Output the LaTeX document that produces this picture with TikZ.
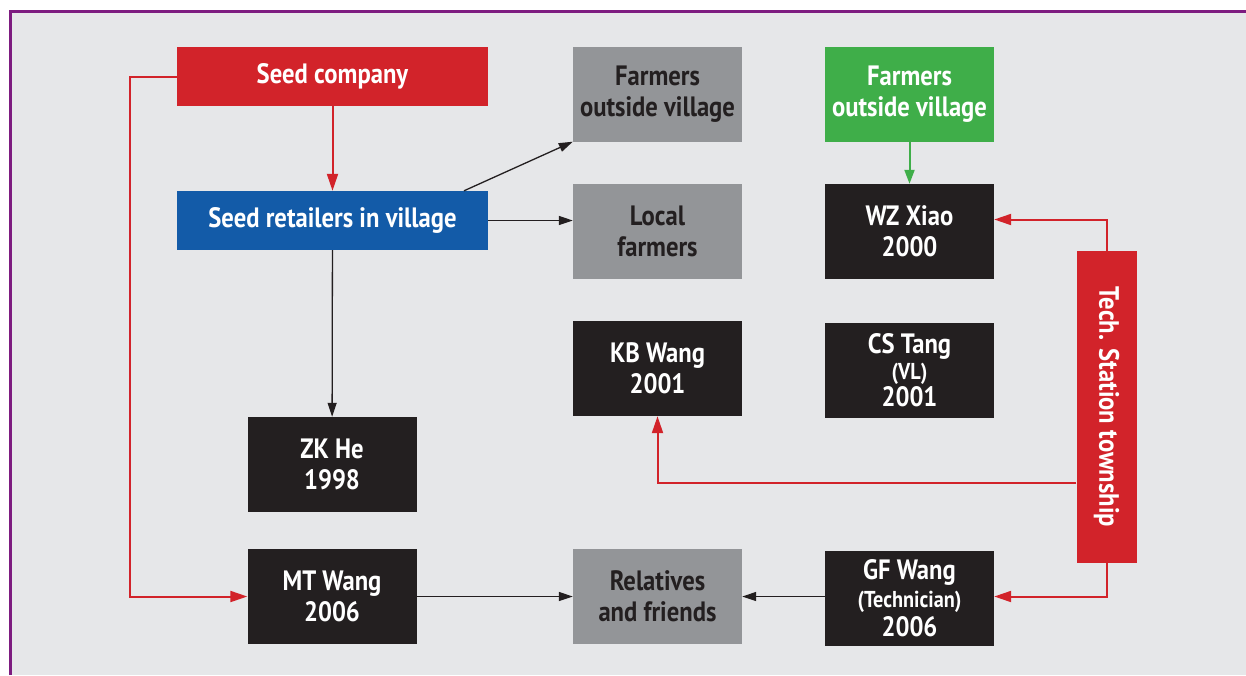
\documentclass[tikz,border=0pt]{standalone}
\usepackage{fontspec}
\setmainfont{PT Sans}[FakeStretch=0.88]
\usepackage{tikz}
\usetikzlibrary{arrows.meta}

\definecolor{bggray}{HTML}{E6E7E9}
\definecolor{frame}{HTML}{7D1C80}
\definecolor{seedred}{HTML}{D2232A}
\definecolor{seedblue}{HTML}{135BA8}
\definecolor{boxgray}{HTML}{939598}
\definecolor{boxgreen}{HTML}{3FAE49}
\definecolor{boxblack}{HTML}{231F20}

\newcommand\subline{\fontsize{23}{26}\selectfont}

\tikzset{
  box/.style={minimum width=169pt, minimum height=95pt, inner sep=0pt, align=center,
    font=\bfseries\fontsize{28}{31}\selectfont},
  blk/.style={box, fill=boxblack, text=white},
  gry/.style={box, fill=boxgray, text=boxblack},
  grn/.style={box, fill=boxgreen, text=white},
  wide/.style={box, minimum width=311pt, minimum height=59pt, text=white},
  blkline/.style={draw=boxblack, line width=1.3pt, ->, >={Triangle[length=14pt,width=9pt]}},
  redline/.style={draw=seedred, line width=2pt, ->, >={Triangle[length=17pt,width=11pt]}},
  grnline/.style={draw=boxgreen, line width=2pt, ->, >={Triangle[length=14pt,width=10pt]}}
}

\begin{document}
\begin{tikzpicture}[x=1pt,y=-1pt]
\useasboundingbox (0,0) rectangle (1246,675);
\fill[bggray] (10,11) rectangle (1246,675);
\draw[frame, line width=3pt] (10,675) -- (10,11) -- (1246,11);

\node[wide, fill=seedred] (seedco) at (332.5,76.5) {Seed company};
\node[wide, fill=seedblue] (retail) at (332.5,220.5) {Seed retailers in village};
\node[gry] (farmout) at (657.5,94) {Farmers\\outside village};
\node[grn] (greenfarm) at (909.5,94) {Farmers\\outside village};
\node[gry] (local) at (657.5,231.5) {Local\\farmers};
\node[blk] (wzxiao) at (909.5,231.5) {WZ Xiao\\2000};
\node[blk] (kbwang) at (657.5,368.5) {KB Wang\\2001};
\node[blk, font=\bfseries\fontsize{28}{26.5}\selectfont] (cstang) at (909.5,370) {CS Tang\\{\subline(VL)}\\2001};
\node[blk] (zkhe) at (332,464.5) {ZK He\\1998};
\node[blk] (mtwang) at (332,596.5) {MT Wang\\2006};
\node[gry] (relat) at (657.5,596.5) {Relatives\\and friends};
\node[blk, font=\bfseries\fontsize{28}{28.5}\selectfont] (gfwang) at (909.5,598) {GF Wang\\{\subline(Technician)}\\2006};
\node[box, fill=seedred, text=white, rotate=-90, minimum width=312pt, minimum height=60pt] (tech) at (1106.5,407) {Tech. Station township};

\draw[redline] (seedco) -- (retail); % company - retailers
\draw[redline] (seedco.west) -- ++(-47,0) |- (mtwang.west); % company - MT Wang
\draw[blkline] ([xshift=131.5pt]retail.north) -- (farmout.south west); % retailers - outside
\draw[blkline] (retail.east) -- (local.west |- retail.east); % retailers - local
\draw[blkline] (retail) -- (zkhe); % retailers - ZK He
\draw[grnline] (greenfarm) -- (wzxiao); % outside - WZ Xiao
\draw[redline] (tech.west) |- ([yshift=12pt]wzxiao.east); % station - WZ Xiao
\draw[redline] ([yshift=-76pt]tech.south) -| (kbwang.south); % station - KB Wang
\draw[redline] (tech.east) |- ([yshift=1.5pt]gfwang.east); % station - GF Wang
\draw[blkline] (mtwang) -- (relat); % MT Wang - relatives
\draw[blkline] (gfwang.west |- relat) -- (relat); % GF Wang - relatives

\end{tikzpicture}
\end{document}
